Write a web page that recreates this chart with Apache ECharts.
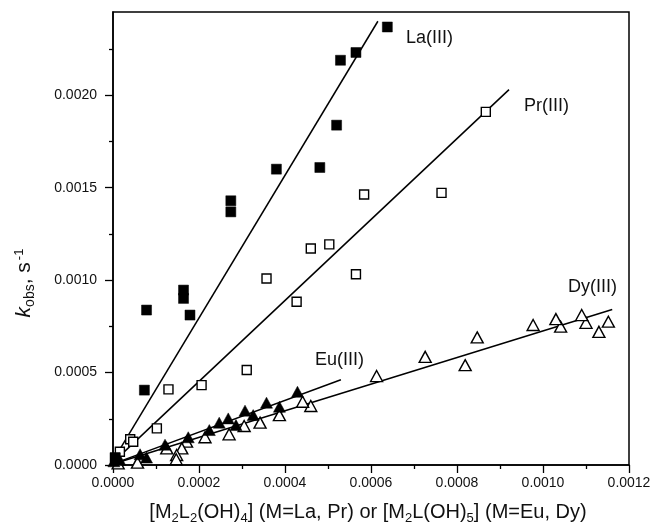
<!DOCTYPE html>
<html>
<head>
<meta charset="utf-8">
<script src="https://cdn.jsdelivr.net/npm/echarts@6/dist/echarts.min.js"></script>
<style>
  html, body { margin: 0; padding: 0; background: #fff; }
  #chart { width: 654px; height: 527px; }
</style>
</head>
<body>
<div id="chart"></div>
<script>
// Observed rate constants k_obs (s^-1) vs. complex concentration (M)
const laData = [
  [0.000638, 0.002369], [0.000565, 0.002231], [0.000529, 0.002189],
  [0.000520, 0.001838], [0.000380, 0.001600], [0.000481, 0.001609],
  [0.000274, 0.001429], [0.000274, 0.001369], [0.000078, 0.000838],
  [0.000164, 0.000946], [0.000164, 0.000901], [0.000179, 0.000811],
  [0.000073, 0.000405], [0.000005, 0.000040]
];
const prData = [
  [0.000867, 0.001910], [0.000584, 0.001463], [0.000764, 0.001472],
  [0.000460, 0.001171], [0.000503, 0.001193], [0.000357, 0.001009],
  [0.000565, 0.001032], [0.000427, 0.000883], [0.000311, 0.000514],
  [0.000206, 0.000432], [0.000129, 0.000409], [0.000102, 0.000198],
  [0.000040, 0.000139], [0.000047, 0.000126], [0.000016, 0.000072],
  [0.000005, 0.000038]
];
const euData = [
  [0.000429, 0.000396], [0.000387, 0.000315], [0.000357, 0.000337],
  [0.000326, 0.000270], [0.000307, 0.000294], [0.000286, 0.000216],
  [0.000268, 0.000252], [0.000247, 0.000229], [0.000224, 0.000189],
  [0.000175, 0.000150], [0.000121, 0.000110], [0.000078, 0.000040],
  [0.000063, 0.000058], [0.000016, 0.000027], [0.000002, 0.000020]
];
const dyData = [
  [0.001152, 0.000775], [0.001130, 0.000720], [0.001100, 0.000769],
  [0.001090, 0.000811], [0.001041, 0.000748], [0.001030, 0.000789],
  [0.000977, 0.000757], [0.000847, 0.000690], [0.000819, 0.000540],
  [0.000726, 0.000585], [0.000613, 0.000481], [0.000460, 0.000319],
  [0.000441, 0.000342], [0.000387, 0.000270], [0.000342, 0.000229],
  [0.000305, 0.000211], [0.000270, 0.000166], [0.000214, 0.000150],
  [0.000171, 0.000126], [0.000160, 0.000090], [0.000125, 0.000090],
  [0.000148, 0.000054], [0.000147, 0.000031], [0.000057, 0.000013],
  [0.000012, 0.000009]
];

// Linear fits (endpoints)
const laFit = [[0, 0.000024], [0.000616, 0.002400]];
const prFit = [[0, 0.000014], [0.000921, 0.002030]];
const euFit = [[0, 0.000006], [0.000530, 0.000461]];
const dyFit = [[0, 0.000005], [0.001161, 0.000841]];

// Axis ticks
const xMajorValues = [0, 0.0002, 0.0004, 0.0006, 0.0008, 0.0010, 0.0012];
const xMinorValues = [0.0001, 0.0003, 0.0005, 0.0007, 0.0009, 0.0011];
const yMajorValues = [0, 0.0005, 0.0010, 0.0015, 0.0020];
const yMinorValues = [0.00025, 0.00075, 0.00125, 0.00175, 0.00225];

const FONT = '"Liberation Sans", Arial, Helvetica, sans-serif';
const X_RANGE = { min: 0, max: 0.0012 };
const Y_RANGE = { min: 0, max: 0.00245 };

const chart = echarts.init(document.getElementById('chart'), null, { renderer: 'canvas' });

function scatter(name, data, symbol, size, filled) {
  return {
    name, type: 'scatter', data, symbol, symbolSize: size, z: 3,
    itemStyle: filled
      ? { color: '#000', borderColor: '#000', borderWidth: 0.5, opacity: 1 }
      : { color: '#fff', borderColor: '#000', borderWidth: 1.4, opacity: 1 }
  };
}
function fitLine(data) {
  return {
    type: 'line', data, symbol: 'none', z: 2, silent: true,
    lineStyle: { color: '#000', width: 1.5 }
  };
}
// main axis carrying labels and long ticks
function majorAxis(range, values, margin) {
  return {
    type: 'value', ...range,
    axisLine: { show: true, onZero: false, lineStyle: { color: '#000', width: 1.5 } },
    axisTick: { show: true, inside: false, length: 8, customValues: values,
                lineStyle: { color: '#000', width: 1.3 } },
    axisLabel: { customValues: values, margin, color: '#111',
                 fontFamily: FONT, fontSize: 14, formatter: v => v.toFixed(4) },
    splitLine: { show: false }
  };
}
// companion axis drawing only the short minor ticks
function minorAxis(range, values) {
  return {
    type: 'value', ...range,
    axisLine: { show: false, onZero: false },
    axisTick: { show: true, inside: false, length: 4, customValues: values,
                lineStyle: { color: '#000', width: 1.3 } },
    axisLabel: { show: false },
    splitLine: { show: false }
  };
}

chart.setOption({
  animation: false,
  backgroundColor: '#fff',
  grid: {
    left: 113, top: 12, right: 25, bottom: 62,
    show: true, borderColor: '#000', borderWidth: 1.5, backgroundColor: 'transparent'
  },
  xAxis: [
    Object.assign(majorAxis(X_RANGE, xMajorValues, 11), { position: 'bottom' }),
    Object.assign(minorAxis(X_RANGE, xMinorValues), { position: 'bottom' })
  ],
  yAxis: [
    Object.assign(majorAxis(Y_RANGE, yMajorValues, 16), { position: 'left' }),
    Object.assign(minorAxis(Y_RANGE, yMinorValues), { position: 'left' })
  ],
  series: [
    fitLine(laFit), fitLine(prFit), fitLine(euFit), fitLine(dyFit),
    scatter('Dy(III)', dyData, 'triangle', [12, 11], false),
    scatter('Eu(III)', euData, 'triangle', [12, 11], true),
    scatter('Pr(III)', prData, 'rect', 9, false),
    scatter('La(III)', laData, 'rect', 10, true)
  ],
  graphic: [
    { type: 'text', left: 406, top: 29, z: 10,
      style: { text: 'La(III)', font: '18px ' + FONT, fill: '#111' } },
    { type: 'text', left: 524, top: 97, z: 10,
      style: { text: 'Pr(III)', font: '18px ' + FONT, fill: '#111' } },
    { type: 'text', left: 315, top: 351, z: 10,
      style: { text: 'Eu(III)', font: '18px ' + FONT, fill: '#111' } },
    { type: 'text', left: 568, top: 278, z: 10,
      style: { text: 'Dy(III)', font: '18px ' + FONT, fill: '#111' } },
    {
      type: 'text', x: 24, y: 283, rotation: Math.PI / 2, z: 10,
      style: {
        text: '{k|k}{sub|obs}{n|, s}{sup|-1}',
        align: 'center', verticalAlign: 'middle',
        rich: {
          k: { fontFamily: FONT, fontSize: 21, fontStyle: 'italic', fill: '#111', lineHeight: 26, verticalAlign: 'middle' },
          sub: { fontFamily: FONT, fontSize: 14, fill: '#111', lineHeight: 26, verticalAlign: 'bottom', padding: [0, 0, 0, 0] },
          n: { fontFamily: FONT, fontSize: 21, fill: '#111', lineHeight: 26, verticalAlign: 'middle' },
          sup: { fontFamily: FONT, fontSize: 13, fill: '#111', lineHeight: 26, verticalAlign: 'top', padding: [2, 0, 0, 2] }
        }
      }
    },
    {
      type: 'text', x: 368, y: 512, z: 10,
      style: {
        text: '{n|[M}{s|2}{n|L}{s|2}{n|(OH)}{s|4}{n|] (M=La, Pr) or [M}{s|2}{n|L(OH)}{s|5}{n|] (M=Eu, Dy)}',
        align: 'center', verticalAlign: 'middle',
        rich: {
          n: { fontFamily: FONT, fontSize: 20, fill: '#111', lineHeight: 26, verticalAlign: 'middle' },
          s: { fontFamily: FONT, fontSize: 13, fill: '#111', lineHeight: 26, verticalAlign: 'bottom', padding: [0, 0, 0, 0] }
        }
      }
    }
  ]
});
</script>
</body>
</html>
